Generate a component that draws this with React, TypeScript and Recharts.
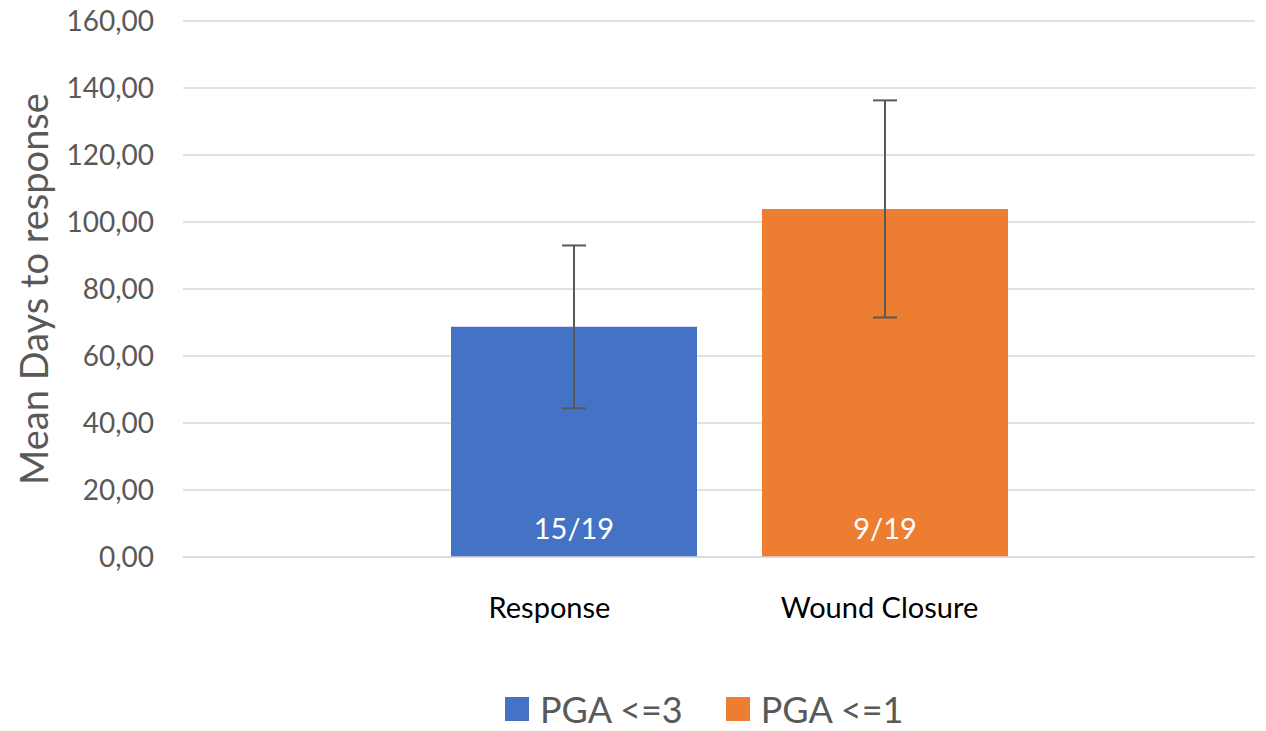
import React from "react";
import {
  BarChart,
  Bar,
  XAxis,
  YAxis,
  CartesianGrid,
  ErrorBar,
  LabelList,
  Legend,
} from "recharts";

const categories = ["Response", "Wound Closure"];
const pga3Values = [68.7, null];
const pga1Values = [null, 103.9];
const pga3Errors = [24.3, null];
const pga1Errors = [null, 32.4];
const pga3Counts = ["15/19", null];
const pga1Counts = [null, "9/19"];
const yTicks = [0, 20, 40, 60, 80, 100, 120, 140, 160];
const seriesNames = ["PGA <=3", "PGA <=1"];
const seriesColors = ["#4472C4", "#ED7D31"];

const data = categories.map((c, i) => ({
  cat: c,
  pga3: pga3Values[i],
  pga1: pga1Values[i],
  err3: pga3Errors[i],
  err1: pga1Errors[i],
  n3: pga3Counts[i],
  n1: pga1Counts[i],
}));

const FONT = "Lato, 'Noto Sans', sans-serif";
const TICK_SHIFT = [-24, -5];

const fmt = (v: number) => v.toFixed(2).replace(".", ",");

const XTick = (props: any) => {
  const { x, y, payload, index } = props;
  return (
    <text
      x={x + (TICK_SHIFT[index] || 0)}
      y={y + 41}
      textAnchor="middle"
      dominantBaseline="central"
      fontSize={29}
      fill="#000"
      fontFamily={FONT}
    >
      {payload.value}
    </text>
  );
};

const YLabel = (props: any) => {
  const vb = props.viewBox || { x: 0, y: 0, width: 0, height: 0 };
  const cx = vb.x + 33;
  const cy = vb.y + vb.height / 2;
  return (
    <text
      x={cx}
      y={cy}
      transform={`rotate(-90, ${cx}, ${cy})`}
      textAnchor="middle"
      dominantBaseline="central"
      fontSize={38}
      fill="#595959"
      fontFamily={FONT}
    >
      Mean Days to response
    </text>
  );
};

const LegendContent = () => (
  <div
    style={{
      display: "flex",
      justifyContent: "flex-start",
      alignItems: "center",
      fontFamily: FONT,
      fontSize: 36,
      color: "#595959",
      height: 60,
      paddingTop: 16,
      paddingLeft: 505,
      boxSizing: "border-box",
      lineHeight: "40px",
    }}
  >
    {seriesNames.map((n, i) => (
      <div
        key={n}
        style={{ display: "flex", alignItems: "center", marginRight: i === 0 ? 43 : 0 }}
      >
        <div
          style={{ width: 24, height: 24, background: seriesColors[i], marginRight: 11 }}
        />
        <span>{n}</span>
      </div>
    ))}
  </div>
);

export default function App() {
  return (
    <div style={{ position: "absolute", left: 0, top: 0, width: 1266, height: 731, background: "#fff" }}>
      <BarChart
        width={1266}
        height={731}
        data={data}
        margin={{ top: 21, right: 11, bottom: 0, left: 0 }}
        barSize={246}
      >
        <CartesianGrid vertical={false} stroke="#d9d9d9" strokeWidth={1.5} />
        <XAxis
          dataKey="cat"
          height={114}
          axisLine={{ stroke: "#d9d9d9", strokeWidth: 1.5 }}
          tickLine={false}
          tick={<XTick />}
          padding={{ left: 235, right: 215 }}
        />
        <YAxis
          width={183}
          domain={[0, 160]}
          ticks={yTicks}
          tickFormatter={fmt}
          axisLine={false}
          tickLine={false}
          tickSize={0}
          tickMargin={29}
          tick={{ fontSize: 28, fill: "#595959", fontFamily: FONT }}
          label={<YLabel />}
        />
        <Legend verticalAlign="bottom" height={60} content={<LegendContent />} />
        <Bar dataKey="pga3" name={seriesNames[0]} stackId="s" fill={seriesColors[0]} isAnimationActive={false}>
          <ErrorBar dataKey="err3" width={12} stroke="#595959" strokeWidth={2} direction="y" />
          <LabelList
            dataKey="n3"
            position="insideBottom"
            offset={18}
            fill="#fff"
            fontSize={29}
            fontFamily={FONT}
          />
        </Bar>
        <Bar dataKey="pga1" name={seriesNames[1]} stackId="s" fill={seriesColors[1]} isAnimationActive={false}>
          <ErrorBar dataKey="err1" width={12} stroke="#595959" strokeWidth={2} direction="y" />
          <LabelList
            dataKey="n1"
            position="insideBottom"
            offset={18}
            fill="#fff"
            fontSize={29}
            fontFamily={FONT}
          />
        </Bar>
      </BarChart>
    </div>
  );
}
